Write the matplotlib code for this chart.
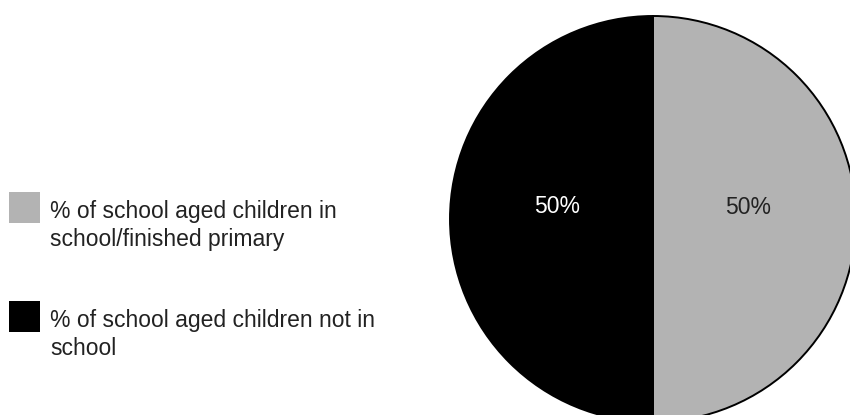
import matplotlib
matplotlib.use("Agg")
from matplotlib import pyplot as plt
from matplotlib.patches import Rectangle
from matplotlib import font_manager

# data
labels = ["% of school aged children in\nschool/finished primary",
          "% of school aged children not in\nschool"]
values = [50, 50]
colours = ["#b3b3b3", "#000000"]
pct_colours = ["#222222", "#ffffff"]

names = {f.name for f in font_manager.fontManager.ttflist}
fam = ["Liberation Sans Narrow", "DejaVu Sans"] if "Liberation Sans Narrow" in names else ["Liberation Sans", "DejaVu Sans"]
plt.rcParams['font.family'] = fam

W, H = 850, 415
fig = plt.figure(figsize=(W / 100, H / 100), dpi=100)

# pie: centre (653, 219) px, radius 203 px
cx, cy, r = 653, 219, 203
ax = fig.add_axes([(cx - r) / W, (H - cy - r) / H, 2 * r / W, 2 * r / H])
wedges, texts, autotexts = ax.pie(values, colors=colours, startangle=90, counterclock=False,
                                  autopct="%d%%", pctdistance=0.47,
                                  wedgeprops=dict(edgecolor="black", linewidth=1.4),
                                  textprops=dict(fontsize=16.5))
for t, c in zip(autotexts, pct_colours):
    t.set_color(c)
    x, y = t.get_position()
    t.set_position((x, y + 12 / r))
ax.set_xlim(-1, 1)
ax.set_ylim(-1, 1)
ax.set_aspect("equal")
ax.axis("off")

# legend drawn by hand
box_tops = [192, 301]
for lab, col, top in zip(labels, colours, box_tops):
    fig.patches.append(Rectangle((9 / W, (H - top - 31) / H), 31 / W, 31 / H,
                                 transform=fig.transFigure, facecolor=col, edgecolor="none"))
    fig.text(50 / W, (H - top - 8) / H, lab, fontsize=16.5, va="top", ha="left",
             color="#222222", linespacing=1.27)

fig.savefig("out.png", dpi=100)
